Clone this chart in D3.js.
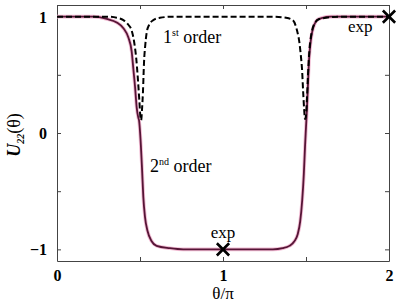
<!DOCTYPE html>
<html>
<head>
<meta charset="utf-8">
<script src="https://cdn.jsdelivr.net/npm/d3@7"></script>
<style>
	body{ margin:0; background:#fff; }
	svg{ display:block; }
	text{ font-family:"Liberation Serif","Times New Roman",serif; fill:#000; }
</style>
</head>
<body>
<div id="chart"></div>
<script>
	// tick values
	var xTicks = [0, 0.5, 1, 1.5, 2];
	var yTicks = [-1, -0.5, 0, 0.5, 1];

	// 1st order (dashed)
	var firstTheta = [0, 0.30, 0.36, 0.40, 0.43, 0.45, 0.465, 0.478, 0.488, 0.496, 0.503, 0.507, 0.512, 0.518, 0.524, 0.532, 0.54, 0.555, 0.58, 0.62, 0.70,
		1.30, 1.38, 1.42, 1.446, 1.46, 1.47, 1.476, 1.483, 1.489, 1.494, 1.50, 1.506, 1.512, 1.52, 1.53, 1.54, 1.556, 1.58, 1.62, 1.70, 2];
	var firstU = [1, 1, 0.99, 0.97, 0.93, 0.88, 0.78, 0.63, 0.45, 0.28, 0.13, 0.11, 0.20, 0.36, 0.60, 0.76, 0.86, 0.93, 0.97, 0.99, 1,
		1, 0.99, 0.97, 0.88, 0.78, 0.65, 0.55, 0.35, 0.20, 0.12, 0.15, 0.30, 0.50, 0.70, 0.83, 0.90, 0.95, 0.98, 0.99, 1, 1];

	// 2nd order (solid)
	var secondTheta = [0, 0.22, 0.30, 0.36, 0.40, 0.43, 0.45, 0.46, 0.47, 0.48, 0.49, 0.494, 0.505, 0.512, 0.52, 0.53, 0.545, 0.57, 0.60, 0.68, 0.76,
		1.24, 1.30, 1.36, 1.40, 1.43, 1.45, 1.465, 1.477, 1.487, 1.494, 1.50, 1.506, 1.512, 1.518, 1.527, 1.536, 1.55, 1.566, 1.60, 1.65, 2];
	var secondU = [1, 1, 0.98, 0.95, 0.90, 0.82, 0.70, 0.55, 0.40, 0.22, 0.13, 0.11, -0.10, -0.30, -0.55, -0.72, -0.84, -0.93, -0.97, -0.99, -1,
		-1, -1, -0.99, -0.97, -0.93, -0.87, -0.76, -0.58, -0.35, -0.12, 0.05, 0.22, 0.42, 0.62, 0.77, 0.86, 0.93, 0.97, 0.99, 1, 1];

	// experiment points
	var expTheta = [2, 1];
	var expU = [1, -1];

	var width = 400, height = 302;
	var mLeft = 57, mRight = 389, mTop = 5, mBottom = 261;

	var svg = d3.select('#chart')
		.append('svg')
		.attr('width', width)
		.attr('height', height);

	var x = d3.scaleLinear().domain([0, 2]).range([mLeft, mRight]);
	var y = d3.scaleLinear().domain([-1.1, 1.1]).range([mBottom, mTop]);

	// axes (inward ticks on all sides)
	var fmt = function(d){ return Number.isInteger(d) ? d3.format('d')(d) : ''; };

	var gBottom = svg.append('g')
		.attr('transform', 'translate(0,' + mBottom + ')')
		.call(d3.axisBottom(x).tickValues(xTicks).tickSizeInner(-4).tickSizeOuter(0).tickPadding(9).tickFormat(fmt));
	var gTop = svg.append('g')
		.attr('transform', 'translate(0,' + mTop + ')')
		.call(d3.axisTop(x).tickValues(xTicks).tickSizeInner(-4).tickSizeOuter(0).tickFormat(''));
	var gLeft = svg.append('g')
		.attr('transform', 'translate(' + mLeft + ',0)')
		.call(d3.axisLeft(y).tickValues(yTicks).tickSizeInner(-4).tickSizeOuter(0).tickPadding(10).tickFormat(fmt));
	var gRight = svg.append('g')
		.attr('transform', 'translate(' + mRight + ',0)')
		.call(d3.axisRight(y).tickValues(yTicks).tickSizeInner(-4).tickSizeOuter(0).tickFormat(''));

	svg.selectAll('.domain').attr('stroke', '#444').attr('stroke-width', 1);
	svg.selectAll('.tick line').attr('stroke', '#444');
	svg.selectAll('.tick text')
		.attr('font-family', '"Liberation Serif","Times New Roman",serif')
		.attr('font-weight', 'bold')
		.attr('font-size', 16)
		.attr('fill', '#000');
	gLeft.selectAll('.tick text').attr('dy', '0.35em');

	// curves
	var line = d3.line()
		.x(function(d){ return x(d[0]); })
		.y(function(d){ return y(d[1]); })
		.curve(d3.curveMonotoneX);

	var secondData = d3.zip(secondTheta, secondU);
	var firstData = d3.zip(firstTheta, firstU);

	svg.append('path')
		.attr('d', line(secondData))
		.attr('fill', 'none')
		.attr('stroke', '#f2bcd4')
		.attr('stroke-width', 3.6);
	svg.append('path')
		.attr('d', line(secondData))
		.attr('fill', 'none')
		.attr('stroke', '#561536')
		.attr('stroke-width', 1.8);
	svg.append('path')
		.attr('d', line(firstData))
		.attr('fill', 'none')
		.attr('stroke', '#000')
		.attr('stroke-width', 2)
		.attr('stroke-dasharray', '6,3');

	// exp markers
	svg.selectAll('path.exp')
		.data(d3.zip(expTheta, expU))
		.enter()
		.append('path')
		.attr('class', 'exp')
		.attr('transform', function(d){ return 'translate(' + x(d[0]) + ',' + y(d[1]) + ')'; })
		.attr('d', d3.symbol(d3.symbolX, 100))
		.attr('fill', 'none')
		.attr('stroke', '#000')
		.attr('stroke-width', 2.6);

	// annotations
	svg.append('text').attr('x', 348).attr('y', 32).attr('font-size', 17).text('exp');
	svg.append('text').attr('x', x(1)).attr('y', 238).attr('text-anchor', 'middle').attr('font-size', 17).text('exp');

	var t1 = svg.append('text').attr('x', 163).attr('y', 43).attr('font-size', 18);
	t1.append('tspan').text('1');
	t1.append('tspan').attr('font-size', 10).attr('dy', -7).text('st');
	t1.append('tspan').attr('dy', 7).text(' order');

	var t2 = svg.append('text').attr('x', 150).attr('y', 172).attr('font-size', 18);
	t2.append('tspan').text('2');
	t2.append('tspan').attr('font-size', 10).attr('dy', -7).text('nd');
	t2.append('tspan').attr('dy', 7).text(' order');

	// axis labels
	svg.append('text')
		.attr('x', x(1)).attr('y', 299)
		.attr('text-anchor', 'middle')
		.attr('font-size', 17)
		.text('θ/π');

	var yl = svg.append('text')
		.attr('transform', 'translate(20,135) rotate(-90)')
		.attr('text-anchor', 'middle')
		.attr('font-size', 18);
	yl.append('tspan').attr('font-weight', 'bold').attr('font-style', 'italic').text('U');
	yl.append('tspan').attr('font-style', 'italic').attr('font-weight', 'bold').attr('font-size', 10).attr('dy', 4).text('22');
	yl.append('tspan').attr('dy', -4).text('(θ)');
</script>
</body>
</html>
